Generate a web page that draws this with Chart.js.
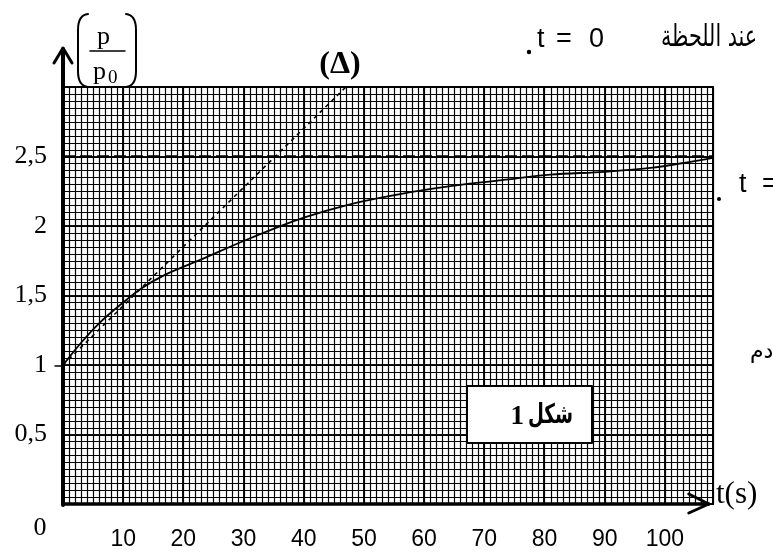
<!DOCTYPE html>
<html>
<head>
<meta charset="utf-8">
<script src="https://cdn.jsdelivr.net/npm/chart.js@4.4.1/dist/chart.umd.min.js"></script>
<style>
  html, body { margin: 0; padding: 0; background: #ffffff; }
  #wrap { position: relative; width: 773px; height: 556px; }
  canvas { display: block; }
</style>
</head>
<body>
<div id="wrap"><canvas id="c" width="773" height="556"></canvas></div>
<script>
// ---- data ----
const timeSeconds = [0, 3, 6, 10, 13, 17, 23, 31, 40, 48, 56, 65, 73, 81, 90, 98, 104, 108];
const pressureRatio = [1.00, 1.16, 1.30, 1.45, 1.55, 1.65, 1.76, 1.91, 2.06, 2.16, 2.23, 2.29, 2.33, 2.37, 2.39, 2.42, 2.46, 2.49];
const tangentTime = [0, 47];
const tangentRatio = [1, 3];
const limitTime = [0, 108];
const limitRatio = [2.5, 2.5];
const xTickValues = [10, 20, 30, 40, 50, 60, 70, 80, 90, 100];
const xTickLabels = ['10', '20', '30', '40', '50', '60', '70', '80', '90', '100'];
const yTickValues = [0.5, 1, 1.5, 2, 2.5];
const yTickLabels = ['0,5', '1', '1,5', '2', '2,5'];
const xMinorStep = 1;      // graph-paper cell along t (s)
const yMinorStep = 0.05;   // graph-paper cell along p/p0

const toPoints = (xs, ys) => xs.map((x, i) => ({ x: x, y: ys[i] }));

const graphPaper = {
  id: 'graphPaper',
  beforeDatasetsDraw(chart) {
    const ctx = chart.ctx;
    const xs = chart.scales.x, ys = chart.scales.y;
    const a = chart.chartArea;
    ctx.save();
    ctx.strokeStyle = '#000';
    ctx.lineWidth = 1.2;
    ctx.beginPath();
    const nX = Math.round((xs.max - xs.min) / xMinorStep);
    for (let i = 0; i <= nX; i++) {
      const px = Math.round(xs.getPixelForValue(xs.min + i * xMinorStep)) + 0.5;
      ctx.moveTo(px, a.top); ctx.lineTo(px, a.bottom);
    }
    const nY = Math.round((ys.max - ys.min) / yMinorStep);
    for (let i = 0; i <= nY; i++) {
      const py = Math.round(ys.getPixelForValue(ys.min + i * yMinorStep)) + 0.5;
      ctx.moveTo(a.left, py); ctx.lineTo(a.right, py);
    }
    ctx.stroke();
    ctx.lineWidth = 2;
    ctx.strokeRect(a.left, a.top, a.right - a.left, a.bottom - a.top);
    ctx.restore();
  }
};

const decorations = {
  id: 'decorations',
  afterDatasetsDraw(chart) {
    const ctx = chart.ctx;
    const xs = chart.scales.x, ys = chart.scales.y;
    const L = xs.getPixelForValue(0), B = ys.getPixelForValue(0);
    const T = ys.getPixelForValue(3);
    ctx.save();
    ctx.strokeStyle = '#000'; ctx.fillStyle = '#000';
    ctx.lineCap = 'round'; ctx.lineJoin = 'round';
    // y axis with arrow
    ctx.lineWidth = 4;
    ctx.beginPath(); ctx.moveTo(L, B + 1); ctx.lineTo(L, T - 38); ctx.stroke();
    ctx.lineWidth = 3;
    ctx.beginPath(); ctx.moveTo(L - 9, T - 24); ctx.lineTo(L, T - 39); ctx.lineTo(L + 9, T - 24); ctx.stroke();
    // x axis with arrow
    const xEnd = xs.getPixelForValue(107.3);
    ctx.lineWidth = 3.5;
    ctx.beginPath(); ctx.moveTo(L, B); ctx.lineTo(xEnd, B); ctx.stroke();
    ctx.lineWidth = 3;
    ctx.beginPath(); ctx.moveTo(xEnd - 20, B - 10); ctx.lineTo(xEnd, B); ctx.lineTo(xEnd - 20, B + 9); ctx.stroke();
    // small tick at 1
    ctx.lineWidth = 1.5;
    const y1 = ys.getPixelForValue(1);
    ctx.beginPath(); ctx.moveTo(L - 8, y1 + 1); ctx.lineTo(L, y1 + 1); ctx.stroke();

    // origin label
    ctx.font = '26px "Liberation Serif"';
    ctx.textAlign = 'center'; ctx.textBaseline = 'alphabetic';
    ctx.fillText('0', 40, 535);

    // p / p0 label with large brackets
    ctx.lineWidth = 2;
    ctx.beginPath(); ctx.moveTo(88, 14); ctx.quadraticCurveTo(78, 15, 78, 30); ctx.lineTo(78, 71); ctx.quadraticCurveTo(78, 86, 88, 87); ctx.stroke();
    ctx.beginPath(); ctx.moveTo(126, 14); ctx.quadraticCurveTo(136, 15, 136, 30); ctx.lineTo(136, 71); ctx.quadraticCurveTo(136, 86, 126, 87); ctx.stroke();
    ctx.font = '26px "Liberation Serif"';
    ctx.textAlign = 'left';
    ctx.fillText('p', 97, 44);
    ctx.lineWidth = 1.5;
    ctx.beginPath(); ctx.moveTo(90, 51); ctx.lineTo(125, 51); ctx.stroke();
    ctx.fillText('p', 93, 79);
    ctx.font = '19px "Liberation Serif"';
    ctx.fillText('0', 108, 83);

    // (Δ)
    ctx.font = 'bold 32px "Liberation Serif"';
    ctx.textAlign = 'center'; ctx.textBaseline = 'middle';
    ctx.fillText('(\u0394)', 340, 65);

    // t(s)
    ctx.font = '31px "Liberation Serif"';
    ctx.textAlign = 'left'; ctx.textBaseline = 'alphabetic';
    ctx.fillText('t(s)', 716, 503);

    // top text: عند اللحظة t = 0 .
    ctx.font = '30px "DejaVu Sans"';
    ctx.textAlign = 'right';
    ctx.fillText('عند اللحظة', 757, 46, 96);
    ctx.font = '27px "Liberation Sans"';
    ctx.textAlign = 'left';
    ctx.fillText('t', 537, 47);
    ctx.fillText('=', 556, 47);
    ctx.fillText('0', 589, 47);
    ctx.beginPath(); ctx.arc(529, 52, 2.2, 0, Math.PI * 2); ctx.fill();

    // right margin fragments
    ctx.font = '27px "Liberation Sans"';
    ctx.fillText('t', 739, 192);
    ctx.fillText('=', 762, 192);
    ctx.beginPath(); ctx.arc(719, 199, 2, 0, Math.PI * 2); ctx.fill();
    ctx.font = '22px "DejaVu Sans"';
    ctx.fillText('دم', 750, 358);

    // figure box
    ctx.fillStyle = '#fff';
    ctx.fillRect(467, 386, 125, 57);
    ctx.strokeStyle = '#000'; ctx.lineWidth = 2;
    ctx.strokeRect(467, 386, 125, 57);
    ctx.fillStyle = '#000';
    ctx.font = 'bold 27px "Liberation Serif"';
    ctx.textAlign = 'right';
    ctx.fillText('1', 524, 424);
    ctx.font = 'bold 27px "DejaVu Sans"';
    ctx.fillText('شكل', 573, 423, 45);
    ctx.restore();
  }
};

const lblX = (v) => { const i = xTickValues.indexOf(Math.round(v)); return (Math.abs(v - Math.round(v)) < 1e-6 && i >= 0) ? xTickLabels[i] : ''; };
const lblY = (v) => { const r = Math.round(v * 100) / 100; const i = yTickValues.indexOf(r); return (Math.abs(v - r) < 1e-6 && i >= 0) ? yTickLabels[i] : ''; };

new Chart(document.getElementById('c'), {
  type: 'line',
  data: {
    datasets: [
      { data: toPoints(timeSeconds, pressureRatio), borderColor: '#000', borderWidth: 1.8, pointRadius: 0, cubicInterpolationMode: 'monotone', fill: false },
      { data: toPoints(tangentTime, tangentRatio), borderColor: '#000', borderWidth: 1.6, borderDash: [4, 4], pointRadius: 0, fill: false },
      { data: toPoints(limitTime, limitRatio), borderColor: '#000', borderWidth: 2.5, borderDash: [12, 5], pointRadius: 0, fill: false }
    ]
  },
  options: {
    responsive: false,
    animation: false,
    events: [],
    layout: { padding: { left: 0, top: 87, right: 60, bottom: 0 } },
    plugins: { legend: { display: false }, tooltip: { enabled: false } },
    scales: {
      x: {
        type: 'linear', min: 0, max: 108,
        afterFit: (s) => { s.height = 52; },
        border: { display: false },
        grid: { drawTicks: false, color: '#111', lineWidth: 2 },
        ticks: {
          stepSize: 10, includeBounds: false, autoSkip: false, maxRotation: 0, minRotation: 0,
          padding: 22, color: '#000',
          font: { family: '"Liberation Sans", Arial, sans-serif', size: 23 },
          callback: (v) => lblX(v)
        }
      },
      y: {
        type: 'linear', min: 0, max: 3,
        afterFit: (s) => { s.width = 63; },
        border: { display: false },
        grid: { drawTicks: false, color: '#111', lineWidth: 2 },
        ticks: {
          stepSize: 0.5, autoSkip: false,
          padding: 16, color: '#000',
          font: { family: '"Liberation Serif", "Times New Roman", serif', size: 26 },
          callback: (v) => lblY(v)
        }
      }
    }
  },
  plugins: [graphPaper, decorations]
});
</script>
</body>
</html>
